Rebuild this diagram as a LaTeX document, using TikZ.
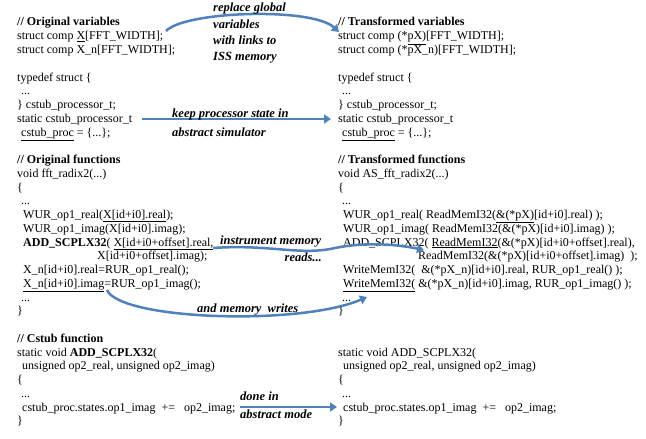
\documentclass[tikz,border=0pt]{standalone}
\usepackage{fontspec}
\setmainfont{Liberation Serif}
\usetikzlibrary{arrows.meta}
\definecolor{arrowblue}{RGB}{79,129,189}
\newcommand{\codefont}{\fontsize{12}{13.8}\selectfont}
\newcommand{\lblfont}{\fontsize{12.5}{14}\selectfont\bfseries\itshape}
\begin{document}
\begin{tikzpicture}[x=1pt,y=-1pt,
  code/.style={anchor=base west, inner sep=0pt, font=\codefont},
  lbl/.style={anchor=base west, inner sep=0pt, font=\lblfont},
  bluearrow/.style={draw=arrowblue, line width=2.5pt, -{Triangle[width=9pt,length=7pt]}}]
\useasboundingbox (0,0) rectangle (646,439);
% ---------- left column ----------
\node[code] (l0) at (17,26) {\textbf{// Original variables}};
\node[code] (l1) at (17,39.75) {struct comp \underline{X}[FFT\_WIDTH];};
\node[code] (l2) at (17,53.5) {struct comp X\_n[FFT\_WIDTH];};
\node[code] (l4) at (17,81) {typedef struct \{};
\node[code] (l5) at (21,94.75) {...};
\node[code] (l6) at (17,108.5) {\} cstub\_processor\_t;};
\node[code] (l7) at (17,122.25) {static cstub\_processor\_t};
\node[code] (l8) at (21,136) {\underline{cstub\_proc} = \{...\};};
\node[code] (l10) at (17,163.5) {\textbf{// Original functions}};
\node[code] (l11) at (17,177.25) {void fft\_radix2(...)};
\node[code] (l12) at (17,191) {\{};
\node[code] (l13) at (21,204.75) {...};
\node[code] (l14) at (23,218.5) {WUR\_op1\_real(\underline{X[id+i0].real});};
\node[code] (l15) at (23,232.25) {WUR\_op1\_imag(X[id+i0].imag);};
\node[code] (l16) at (23,246) {\textbf{ADD\_SCPLX32}( \underline{X[id+i0+offset].real,}};
\node[code] (l17) at (97,259.75) {X[id+i0+offset].imag);};
\node[code] (l18) at (23,273.5) {X\_n[id+i0].real=RUR\_op1\_real();};
\node[code] (l19) at (23,287.25) {\underline{X\_n[id+i0].imag}=RUR\_op1\_imag();};
\node[code] (l20) at (21,301) {...};
\node[code] (l21) at (17,314.75) {\}};
\node[code] (l23) at (17,342.25) {\textbf{// Cstub function}};
\node[code] (l24) at (17,356) {static void \textbf{ADD\_SCPLX32}(};
\node[code] (l25) at (22,369.75) {unsigned op2\_real, unsigned op2\_imag)};
\node[code] (l26) at (17,383.5) {\{};
\node[code] (l27) at (21,397.25) {...};
\node[code] (l28) at (22,411) {cstub\_proc.states.op1\_imag~~+=~~~op2\_imag;};
\node[code] (l29) at (17,424.75) {\}};
% ---------- right column ----------
\node[code] (r0) at (338,26) {\textbf{// Transformed variables}};
\node[code] (r1) at (338,39.75) {struct comp (*\underline{pX)}[FFT\_WIDTH];};
\node[code] (r2) at (338,53.5) {struct comp (*pX\_n)[FFT\_WIDTH];};
\node[code] (r4) at (338,81) {typedef struct \{};
\node[code] (r5) at (342,94.75) {...};
\node[code] (r6) at (338,108.5) {\} cstub\_processor\_t;};
\node[code] (r7) at (338,122.25) {static cstub\_processor\_t};
\node[code] (r8) at (342,136) {\underline{cstub\_proc} = \{...\};};
\node[code] (r10) at (338,163.5) {\textbf{// Transformed functions}};
\node[code] (r11) at (338,177.25) {void AS\_fft\_radix2(...)};
\node[code] (r12) at (338,191) {\{};
\node[code] (r13) at (342,204.75) {...};
\node[code] (r14) at (343,218.5) {WUR\_op1\_real( ReadMemI32(\underline{\&(*pX)}[id+i0].real)~);};
\node[code] (r15) at (343,232.25) {WUR\_op1\_imag( ReadMemI32(\&(*pX)[id+i0].imag)~);};
\node[code] (r16) at (343,246) {ADD\_SCPLX32( \underline{ReadMemI32}(\&(*pX)[id+i0+offset].real),};
\node[code] (r17) at (418,259.75) {ReadMemI32(\&(*pX)[id+i0+offset].imag)~~);};
\node[code] (r18) at (343,273.5) {WriteMemI32(~ \&(*pX\_n)[id+i0].real, RUR\_op1\_real()~);};
\node[code] (r19) at (343,287.25) {\underline{WriteMemI32(}~\&(*pX\_n)[id+i0].imag, RUR\_op1\_imag()~);};
\node[code] (r20) at (342,301) {...};
\node[code] (r21) at (338,314.75) {\}};
\node[code] (r24) at (338,356) {static void ADD\_SCPLX32(};
\node[code] (r25) at (343,369.75) {unsigned op2\_real, unsigned op2\_imag)};
\node[code] (r26) at (338,383.5) {\{};
\node[code] (r27) at (342,397.25) {...};
\node[code] (r28) at (343,411) {cstub\_proc.states.op1\_imag~~+=~~~op2\_imag;};
\node[code] (r29) at (338,424.75) {\}};
% ---------- arrows ----------
\coordinate (a1s) at (166,31);
\coordinate (a1e) at (339,32);
\coordinate (a2s) at (142,119);
\coordinate (a2e) at (331,119);
\coordinate (a3s) at (213,248);
\coordinate (a3m) at (335,248);
\coordinate (a3e) at (424,250);
\coordinate (a4s) at (107,290);
\coordinate (a4e) at (367,297);
\coordinate (a5s) at (240,407);
\coordinate (a5e) at (337,407);
\draw[bluearrow] (a1s) .. controls (185,11) and (312,7) .. (a1e);
\draw[bluearrow] (a2s) -- (a2e);
\draw[bluearrow] (a3s) .. controls (270,244) and (300,256) .. (a3m) .. controls (365,242) and (395,244) .. (a3e);
\draw[bluearrow] (a4s) .. controls (120,320) and (300,326) .. (a4e);
\draw[bluearrow] (a5s) -- (a5e);
% ---------- labels ----------
\node[lbl] (n1) at (213,12) {replace global};
\node[lbl] (n2) at (213,28) {variables};
\node[lbl] (n3) at (213,44) {with links to};
\node[lbl] (n4) at (213,60) {ISS memory};
\node[lbl] (k1) at (172,117) {keep processor state in};
\node[lbl] (k2) at (172,136) {abstract simulator};
\node[lbl] (i1) at (220,244) {instrument memory};
\node[lbl, anchor=base east] (i2) at (322,261) {reads...};
\node[lbl] (w1) at (197,312) {and memory~ writes};
\node[lbl] (d1) at (240,400) {done in};
\node[lbl] (d2) at (240,418) {abstract mode};
\end{tikzpicture}
\end{document}
